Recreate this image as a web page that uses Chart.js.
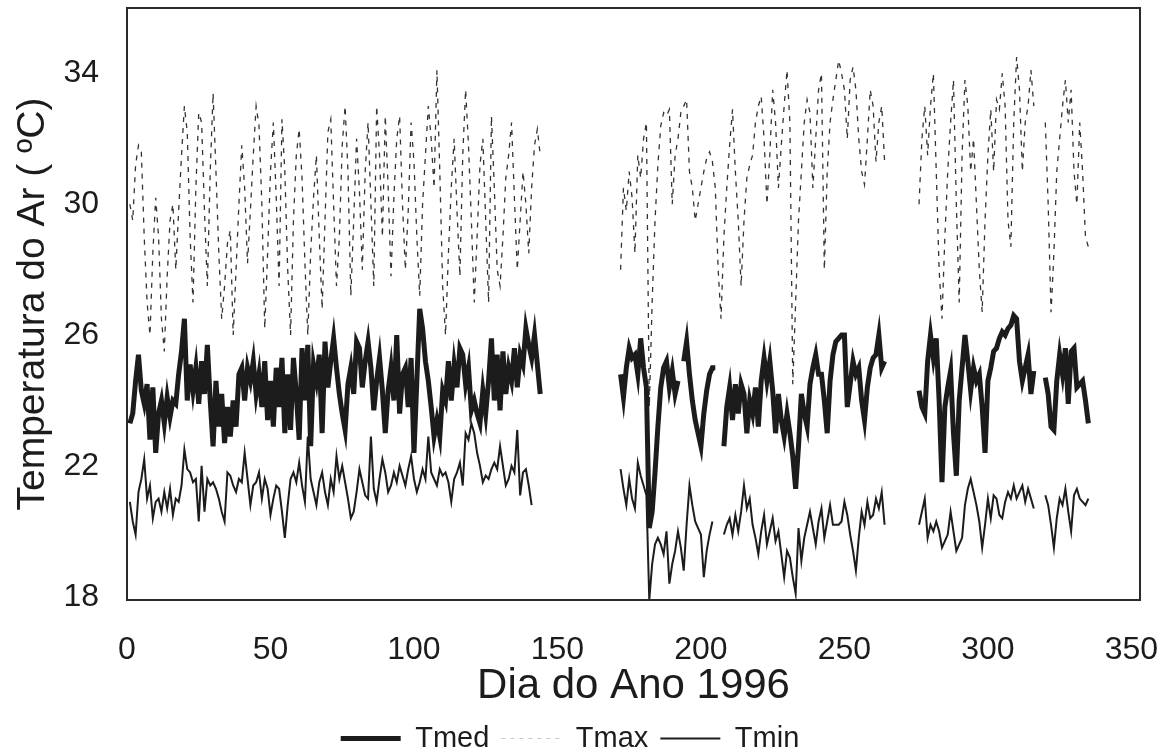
<!DOCTYPE html>
<html>
<head>
<meta charset="utf-8">
<script src="https://cdn.jsdelivr.net/npm/chart.js@4"></script>
<style>
  html, body { margin: 0; padding: 0; background: #ffffff; }
  #wrap { width: 1173px; height: 756px; }
</style>
</head>
<body>
<div id="wrap"><canvas id="tempChart" width="1173" height="756"></canvas></div>
<script>
// Axis ticks
var xTicks = [0, 50, 100, 150, 200, 250, 300, 350];
var yTicks = [18, 22, 26, 30, 34];

// Tmed: first day of each continuous piece, then the daily values
var tmedStarts = [1, 172, 194, 208, 276, 320];
var tmedA = [
    23.3, 23.6, 24.6, 25.4, 24.3, 23.9, 24.5, 22.8, 24.4, 22.4,
    23.6, 24.0, 23.3, 24.1, 23.5, 24.0, 23.9, 24.8, 25.5, 26.5,
    24.0, 25.1, 24.3, 25.0, 23.9, 25.2, 24.2, 25.7, 24.0, 22.6,
    24.6, 23.2, 24.2, 22.7, 23.8, 22.9, 24.0, 23.2, 24.8, 25.0,
    24.0, 25.0, 24.6, 25.2, 24.2, 24.8, 23.8, 25.2, 23.4, 24.6,
    23.2, 25.0, 23.8, 25.3, 23.0, 24.8, 23.1, 25.3, 24.2, 22.8,
    25.6, 24.0, 25.7, 22.6, 25.1, 24.6, 25.4, 23.0, 25.8, 24.4,
    25.2, 25.9, 25.0, 24.2, 23.6, 23.1, 24.5, 25.0, 24.2, 25.8,
    25.6, 24.4, 25.2, 25.8, 25.0, 23.7, 24.6, 25.3, 24.3, 23.0,
    24.3, 25.0, 24.0, 26.0, 23.6, 24.8, 25.0, 23.8, 25.3, 22.4,
    24.6, 26.8, 26.2, 25.2, 24.6, 23.8, 22.9, 23.4, 22.9, 24.3,
    24.0, 25.2, 24.0, 25.1, 24.4, 25.6, 25.4, 24.5, 25.0, 23.7,
    24.0, 23.6, 23.3, 24.3, 23.6, 24.6, 25.9, 24.0, 25.4, 23.7,
    25.5, 24.2, 25.0, 24.6, 25.6, 24.4, 25.4, 25.1, 26.2, 25.7,
    25.3, 26.0, 25.1, 24.2
];
var tmedB = [24.8, 24.1, 25.0, 25.6, 25.3, 25.4, 24.8, 25.9, 25.0, 24.4,
    20.1, 20.6, 21.8, 23.2, 24.4, 25.0, 25.2, 24.4, 24.9, 24.2, 24.6];
var tmedC = [25.2, 25.8, 24.8, 24.0, 23.4, 23.0, 22.6, 23.6, 24.3, 24.8, 25.0, 25.0];
var tmedD = [
    22.6, 23.8, 24.4, 23.4, 24.5, 23.6, 24.5, 24.2, 23.0, 24.0,
    23.6, 24.4, 23.2, 24.6, 25.3, 24.6, 25.2, 24.3, 23.0, 24.2,
    23.4, 22.9, 23.6, 23.0, 22.3, 21.3, 22.6, 24.2, 23.6, 23.2,
    24.5, 25.0, 25.4, 24.8, 24.8, 24.0, 23.0, 24.6, 25.4, 25.8,
    25.9, 26.0, 26.0, 23.8, 24.5, 25.2, 24.8, 25.0, 24.0, 23.4,
    24.4, 25.0, 25.3, 25.4, 26.0, 25.0, 25.2
];
var tmedE = [
    24.3, 23.8, 23.6, 25.2, 26.0, 25.3, 25.9, 24.0, 21.5, 23.8,
    24.4, 24.9, 23.0, 21.7, 24.0, 25.0, 26.0, 25.2, 24.3, 25.0,
    24.6, 24.8, 23.8, 22.4, 24.6, 25.0, 25.5, 25.6, 25.9, 26.1,
    26.0, 26.2, 26.3, 26.6, 26.5, 25.2, 24.6, 25.0, 25.4, 24.2, 24.9
];
var tmedF = [24.7, 24.2, 23.2, 23.1, 24.6, 25.4, 24.8, 25.6, 23.9, 25.5,
    25.6, 24.4, 24.5, 24.6, 24.0, 23.3];

// Tmax
var tmaxStarts = [1, 172, 276, 320];
var tmaxA = [
    30.0, 29.5, 31.2, 31.8, 31.6, 29.0, 27.0, 26.0, 28.5, 30.2,
    29.0, 26.5, 25.5, 27.8, 29.5, 30.0, 28.0, 29.8, 31.5, 33.0,
    32.2, 29.0, 27.0, 30.5, 32.8, 32.5, 29.8, 27.5, 31.0, 33.4,
    31.0, 28.5, 26.5, 27.5, 28.8, 29.2, 26.0, 28.0, 30.0, 31.8,
    30.5, 28.2, 29.8, 31.5, 33.0, 32.4, 30.0, 26.2, 28.5, 31.0,
    32.5, 30.2, 27.5, 32.6, 31.0, 28.0, 26.0, 29.5, 31.5, 32.3,
    30.8, 28.2, 26.0, 28.5, 30.2, 31.5, 29.0, 26.8, 29.5, 32.2,
    32.6, 30.0, 27.5, 29.0, 31.8, 33.0, 31.0, 27.2, 29.5, 32.0,
    30.4, 28.0, 31.0, 32.5, 30.0, 27.5, 33.0, 31.5, 29.0, 32.7,
    30.5, 27.8, 30.2, 32.0, 32.7, 30.0, 28.0, 29.8, 32.5, 31.3,
    29.0, 27.2, 30.0, 31.5, 33.0, 32.0, 30.5, 34.1, 31.0, 27.5,
    26.0, 28.5, 30.5, 32.0, 29.8, 27.8, 31.5, 33.5, 31.8, 29.5,
    27.0, 29.0, 31.2, 32.0, 29.5, 27.0, 32.7, 30.5, 28.0, 27.5,
    29.0, 30.8, 31.5, 32.5, 30.2, 28.0, 29.5, 31.0, 30.0, 28.5,
    30.5, 31.8, 32.3, 31.5
];
var tmaxB = [
    28.0, 30.5, 29.8, 31.0, 30.2, 28.5, 31.5, 30.8, 32.0, 32.5,
    23.8, 27.0, 29.5, 31.2, 32.4, 32.8, 32.7, 32.9, 30.0, 31.5,
    32.0, 32.8, 33.0, 33.2, 31.0, 30.5, 29.5, 30.0, 30.5, 31.0,
    31.4, 31.6, 31.3, 30.5, 28.0, 26.5, 29.0, 30.5, 31.8, 32.9,
    31.0, 29.5, 27.5, 29.5, 30.8, 31.2, 31.5, 32.5, 33.0, 33.3,
    32.0, 30.0, 31.5, 33.5, 32.5, 30.5, 31.8, 33.0, 34.1, 32.5,
    24.5, 27.0, 29.5, 31.0, 32.5, 33.2, 32.8, 30.5, 32.0, 33.5,
    34.0, 28.0, 31.0, 32.5, 33.2, 33.8, 34.4, 34.0, 33.5, 32.0,
    33.8, 34.2, 33.5, 32.0, 31.0, 30.6, 32.0, 33.5, 33.0, 31.3,
    32.5, 33.0, 31.3
];
var tmaxC = [
    30.0, 32.0, 33.0, 31.5, 33.0, 34.0, 31.0, 28.0, 26.5, 29.0,
    31.0, 32.5, 33.8, 30.0, 27.0, 31.5, 33.8, 33.0, 31.0, 32.0,
    30.0, 28.0, 26.7, 29.5, 31.5, 32.9, 31.0, 33.2, 32.9, 34.0,
    33.0, 29.5, 28.7, 32.5, 34.5, 33.5, 31.0, 32.5, 33.0, 34.1, 33.0
];
var tmaxD = [32.5, 30.0, 26.7, 28.5, 31.0, 32.0, 33.0, 33.8, 32.5, 33.5,
    31.0, 30.0, 32.5, 31.0, 29.0, 28.7];

// Tmin
var tminStarts = [1, 172, 208, 276, 320];
var tminA = [
    20.9, 20.3, 19.9, 21.2, 21.6, 22.2, 21.0, 21.4, 20.4, 20.9,
    21.0, 20.6, 21.2, 20.7, 21.3, 20.5, 21.0, 20.9, 21.4, 22.5,
    21.9, 21.8, 21.5, 21.6, 20.3, 22.0, 20.6, 21.6, 21.4, 21.5,
    21.3, 21.0, 20.6, 20.3, 21.8, 21.7, 21.4, 21.2, 21.6, 21.5,
    22.4, 21.6, 20.8, 21.4, 21.5, 21.8, 21.0, 21.6, 21.3, 20.5,
    21.0, 21.4, 21.3, 20.6, 19.8, 20.8, 21.6, 21.8, 21.5, 22.1,
    21.4, 20.9, 22.9, 21.6, 21.2, 20.8, 21.5, 21.8, 21.2, 20.8,
    21.6, 21.2, 22.3, 21.6, 22.0, 21.5, 21.0, 20.4, 20.6, 21.2,
    21.9, 21.5, 21.1, 21.0, 22.9, 21.3, 20.9, 21.6, 22.2, 21.8,
    21.2, 21.4, 21.8, 21.5, 22.0, 21.7, 21.4, 21.9, 22.3, 21.6,
    21.2, 21.5, 21.9, 21.6, 22.9, 21.8, 21.6, 21.4, 21.9, 21.7,
    21.8, 21.5, 20.9, 21.6, 21.8, 22.1, 21.4, 23.0, 22.8, 23.3,
    23.0, 22.4, 22.0, 21.5, 21.7, 21.6, 21.9, 22.1, 21.9, 22.6,
    22.0, 21.4, 21.6, 22.0, 21.8, 23.1, 21.1, 21.8, 21.9, 21.4,
    20.8
];
var tminB = [
    21.9, 21.3, 20.8, 21.6, 21.0, 20.7, 22.1, 21.7, 21.4, 21.1,
    17.9, 19.0, 19.6, 19.8, 19.6, 19.3, 20.0, 18.4, 19.0, 19.4,
    20.0, 19.5, 18.8, 20.2, 21.4, 20.8, 20.3, 20.1, 19.9, 18.6,
    19.4, 19.9, 20.3
];
var tminC = [
    19.9, 20.2, 20.4, 19.9, 20.5, 20.0, 20.6, 21.4, 20.7, 21.0,
    20.2, 19.8, 19.3, 20.0, 20.5, 19.6, 20.0, 20.4, 19.7, 20.0,
    19.3, 18.6, 19.4, 19.2, 18.6, 18.1, 20.1, 19.1, 19.8, 20.2,
    20.6, 20.1, 19.6, 20.3, 20.7, 19.8, 20.3, 20.8, 20.2, 20.2,
    20.2, 20.3, 20.9, 20.5, 19.9, 19.4, 18.8, 19.8, 20.6, 20.2,
    20.9, 20.4, 20.5, 21.0, 20.7, 21.2, 20.2
];
var tminD = [
    20.2, 20.6, 21.0, 19.8, 20.2, 20.0, 20.3, 20.0, 19.5, 19.7,
    19.9, 20.6, 20.0, 19.4, 19.6, 19.8, 20.8, 21.3, 21.6, 21.2,
    20.8, 20.3, 19.5, 20.2, 21.0, 20.4, 21.1, 21.0, 20.5, 20.4,
    20.9, 21.2, 21.0, 21.4, 21.0, 21.2, 21.4, 20.9, 21.3, 21.0, 20.7
];
var tminE = [21.1, 20.8, 20.2, 19.5, 20.4, 21.0, 20.8, 21.3, 20.6, 20.0,
    21.1, 21.3, 21.0, 20.9, 20.8, 21.0];

// Turn the pieces into {x, y} points, with a null between pieces so the line breaks
function buildPoints(starts, pieces) {
    var pts = [];
    pieces.forEach(function (piece, k) {
        if (k > 0) pts.push({ x: starts[k] - 0.5, y: null });
        piece.forEach(function (v, i) {
            pts.push({ x: starts[k] + i, y: v });
        });
    });
    return pts;
}

var fontFamily = "'Liberation Sans', Arial, sans-serif";
var inkColor = "#1c1c1c";

// Frame around the plot area
var framePlugin = {
    id: "frame",
    afterDraw: function (chart) {
        var a = chart.chartArea;
        var c = chart.ctx;
        c.save();
        c.strokeStyle = "#2a2a2a";
        c.lineWidth = 2;
        c.strokeRect(a.left, a.top, a.right - a.left, a.bottom - a.top);
        c.restore();
    }
};

var bgPlugin = {
    id: "bg",
    beforeDraw: function (chart) {
        var c = chart.ctx;
        c.save();
        c.fillStyle = "#ffffff";
        c.fillRect(0, 0, chart.width, chart.height);
        c.restore();
    }
};

document.addEventListener("DOMContentLoaded", function () {
    var ctx = document.getElementById("tempChart").getContext("2d");

    new Chart(ctx, {
        type: "line",
        data: {
            datasets: [
                {
                    label: "Tmed",
                    data: buildPoints(tmedStarts, [tmedA, tmedB, tmedC, tmedD, tmedE, tmedF]),
                    borderColor: inkColor,
                    backgroundColor: inkColor,
                    borderWidth: 5,
                    pointRadius: 0,
                    tension: 0,
                    spanGaps: false
                },
                {
                    label: "Tmax",
                    data: buildPoints(tmaxStarts, [tmaxA, tmaxB, tmaxC, tmaxD]),
                    borderColor: "#333333",
                    backgroundColor: "#333333",
                    borderWidth: 1.3,
                    borderDash: [5, 6],
                    pointRadius: 0,
                    tension: 0,
                    spanGaps: false
                },
                {
                    label: "Tmin",
                    data: buildPoints(tminStarts, [tminA, tminB, tminC, tminD, tminE]),
                    borderColor: inkColor,
                    backgroundColor: inkColor,
                    borderWidth: 2,
                    pointRadius: 0,
                    tension: 0,
                    spanGaps: false
                }
            ]
        },
        options: {
            responsive: false,
            animation: false,
            layout: { padding: { top: 8, right: 33, left: 0, bottom: -7 } },
            scales: {
                x: {
                    type: "linear",
                    min: 0,
                    max: 353,
                    afterFit: function (scale) {
                        scale.height = 112;
                        scale.paddingLeft = 0;
                        scale.paddingRight = 0;
                    },
                    afterBuildTicks: function (scale) {
                        scale.ticks = xTicks.map(function (v) { return { value: v }; });
                    },
                    grid: { display: false },
                    border: { display: false },
                    ticks: {
                        color: inkColor,
                        padding: 23,
                        maxRotation: 0,
                        font: { family: fontFamily, size: 32 }
                    },
                    title: {
                        display: true,
                        text: "Dia do Ano 1996",
                        color: inkColor,
                        padding: { top: 0, bottom: 0 },
                        font: { family: fontFamily, size: 42 }
                    }
                },
                y: {
                    type: "linear",
                    min: 17.9,
                    max: 36.0,
                    afterFit: function (scale) {
                        scale.width = 127;
                        scale.paddingTop = 0;
                        scale.paddingBottom = 0;
                    },
                    afterBuildTicks: function (scale) {
                        scale.ticks = yTicks.map(function (v) { return { value: v }; });
                    },
                    grid: { display: false },
                    border: { display: false },
                    ticks: {
                        color: inkColor,
                        padding: 20,
                        font: { family: fontFamily, size: 32 }
                    },
                    title: {
                        display: true,
                        text: "Temperatura do Ar ( ºC)",
                        color: inkColor,
                        padding: { top: 10, bottom: 4 },
                        font: { family: fontFamily, size: 39 }
                    }
                }
            },
            plugins: {
                legend: {
                    position: "bottom",
                    labels: {
                        usePointStyle: true,
                        pointStyle: "line",
                        pointStyleWidth: 60,
                        boxHeight: 26,
                        color: inkColor,
                        padding: 12,
                        font: { family: fontFamily, size: 29 },
                        generateLabels: function (chart) {
                            var items = Chart.defaults.plugins.legend.labels.generateLabels(chart);
                            items.forEach(function (it) {
                                if (it.text === "Tmax") {
                                    it.strokeStyle = "#c8c8c8";
                                    it.lineWidth = 1;
                                    it.lineDash = [4, 5];
                                }
                            });
                            return items;
                        }
                    }
                },
                tooltip: { enabled: false }
            }
        },
        plugins: [bgPlugin, framePlugin]
    });
});
</script>
</body>
</html>
